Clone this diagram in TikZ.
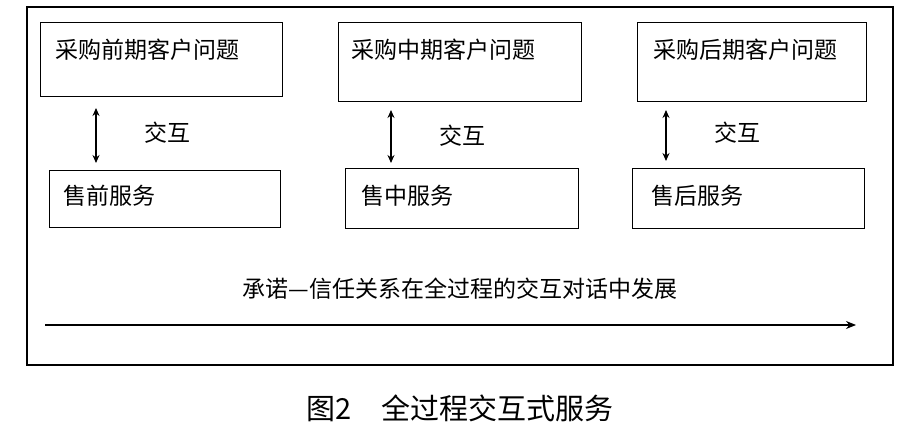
\documentclass[tikz,border=0pt]{standalone}
\usepackage{fontspec}
\setmainfont{Noto Sans CJK SC}
\usetikzlibrary{arrows.meta}
\begin{document}
\begin{tikzpicture}[x=1pt,y=-1pt,
  bx/.style={draw,line width=1.2pt,anchor=north west,inner sep=0pt},
  lb/.style={font=\fontsize{23}{26}\selectfont,anchor=west},
  dbl/.style={{Stealth[length=8pt,width=7pt]}-{Stealth[length=8pt,width=7pt]},line width=1.5pt}]
\useasboundingbox (0,0) rectangle (918,428);
\draw[line width=1.3pt] (27,7) rectangle (893,365);
% top boxes
\node[bx,minimum width=242pt,minimum height=74pt] (t1) at (40,22) {};
\node[bx,minimum width=243pt,minimum height=79pt] (t2) at (338,22) {};
\node[bx,minimum width=229pt,minimum height=79pt] (t3) at (637,22) {};
\node[lb] at (52,50) {采购前期客户问题};
\node[lb] at (348,50) {采购中期客户问题};
\node[lb] at (650,50) {采购后期客户问题};
% bottom boxes
\node[bx,minimum width=231pt,minimum height=57pt] (b1) at (49,170) {};
\node[bx,minimum width=233pt,minimum height=60pt] (b2) at (345,168) {};
\node[bx,minimum width=232pt,minimum height=60pt] (b3) at (632,168) {};
\node[lb] at (60,196) {售前服务};
\node[lb] at (358,196) {售中服务};
\node[lb] at (648,196) {售后服务};
% arrows
\coordinate (a1t) at (96,108); \coordinate (a1b) at (96,163);
\coordinate (a2t) at (391,110); \coordinate (a2b) at (391,163);
\coordinate (a3t) at (666,110); \coordinate (a3b) at (666,161);
\draw[dbl] (a1t) -- (a1b);
\draw[dbl] (a2t) -- (a2b);
\draw[dbl] (a3t) -- (a3b);
\node[lb,anchor=center] (j1) at (167,133) {交互};
\node[lb,anchor=center] (j2) at (462,136) {交互};
\node[lb,anchor=center] (j3) at (737,133) {交互};
\node[lb,anchor=center] (c) at (460,289) {承诺—信任关系在全过程的交互对话中发展};
\coordinate (s) at (45,325); \coordinate (e) at (856,325);
\draw[line width=1.3pt,-{Stealth[length=10pt,width=8pt]}] (s) -- (e);
\node[font=\fontsize{29}{32}\selectfont] (cap) at (460,408) {图2\quad 全过程交互式服务};
\end{tikzpicture}
\end{document}
